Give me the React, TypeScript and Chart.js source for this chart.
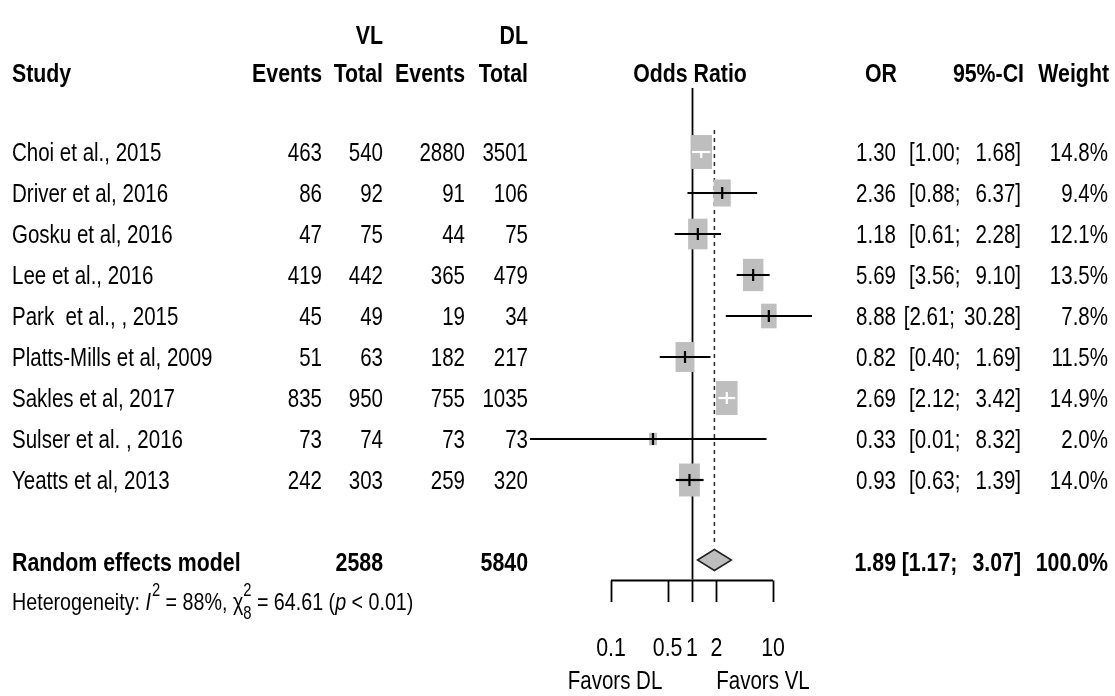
import React, { useEffect, useRef } from "react";
import { Chart, registerables } from "chart.js";

Chart.register(...registerables);

// ---------------- data ----------------
const studies = [
  "Choi et al., 2015",
  "Driver et al, 2016",
  "Gosku et al, 2016",
  "Lee et al., 2016",
  "Park  et al., , 2015",
  "Platts-Mills et al, 2009",
  "Sakles et al, 2017",
  "Sulser et al. , 2016",
  "Yeatts et al, 2013",
];
const vlEvents = [463, 86, 47, 419, 45, 51, 835, 73, 242];
const vlTotal = [540, 92, 75, 442, 49, 63, 950, 74, 303];
const dlEvents = [2880, 91, 44, 365, 19, 182, 755, 73, 259];
const dlTotal = [3501, 106, 75, 479, 34, 217, 1035, 73, 320];
const orValues = [1.3, 2.36, 1.18, 5.69, 8.88, 0.82, 2.69, 0.33, 0.93];
const ciLower = [1.0, 0.88, 0.61, 3.56, 2.61, 0.4, 2.12, 0.01, 0.63];
const ciUpper = [1.68, 6.37, 2.28, 9.1, 30.28, 1.69, 3.42, 8.32, 1.39];
const weights = [14.8, 9.4, 12.1, 13.5, 7.8, 11.5, 14.9, 2.0, 14.0];

const pooledLabel = "Random effects model";
const pooledVlTotal = 2588;
const pooledDlTotal = 5840;
const pooledOR = 1.89;
const pooledLower = 1.17;
const pooledUpper = 3.07;
const pooledWeight = "100.0%";

const xTicks = [0.1, 0.5, 1, 2, 10];
const xTickLabels = ["0.1", "0.5", "1", "2", "10"];
const favorsLeft = "Favors DL";
const favorsRight = "Favors VL";

const W = 1115;
const H = 696;
const POOLED_ROW = 10;
const NARROW = 0.82;
const BOLD = 26;
const REG = 25;

// column right edges (layout)
const C_VLE = 322;
const C_VLT = 383;
const C_DLE = 465;
const C_DLT = 528;
const C_OR = 896;
const C_CI = 1021;
const C_WT = 1108;

const FAM = '"Liberation Sans", Arial, sans-serif';
const font = (size: number, bold = false, italic = false) =>
  `${italic ? "italic " : ""}${bold ? "bold " : ""}${size}px ${FAM}`;

const maxW = Math.max(...weights);
function boxSize(i: number) {
  const s = Math.sqrt(weights[i] / maxW);
  return { bw: 21.5 * s, bh: 34 * s };
}
function ciInside(chart: any, i: number) {
  const xs = chart.scales.x;
  const cx = xs.getPixelForValue(orValues[i]);
  const { bw } = boxSize(i);
  const lo = xs.getPixelForValue(ciLower[i]);
  const hi = xs.getPixelForValue(ciUpper[i]);
  return lo >= cx - bw / 2 && hi <= cx + bw / 2;
}

export default function App() {
  const ref = useRef<HTMLCanvasElement>(null);

  useEffect(() => {
    const canvas = ref.current!;

    const forestPlugin = {
      id: "forest",
      beforeDatasetsDraw(chart: any) {
        const { ctx } = chart;
        const xs = chart.scales.x;
        const ys = chart.scales.y;
        const axisY = ys.getPixelForValue(POOLED_ROW) + 17.5;
        ctx.save();
        // reference line at 1
        const x1 = Math.round(xs.getPixelForValue(1)) + 0.5;
        ctx.strokeStyle = "#000";
        ctx.lineWidth = 1.8;
        ctx.beginPath();
        ctx.moveTo(x1, 88);
        ctx.lineTo(x1, axisY);
        ctx.stroke();
        // dashed pooled line
        const xp = xs.getPixelForValue(pooledOR);
        ctx.setLineDash([4, 4]);
        ctx.strokeStyle = "#333";
        ctx.lineWidth = 1.6;
        ctx.beginPath();
        ctx.moveTo(xp, ys.getPixelForValue(0) - 22);
        ctx.lineTo(xp, ys.getPixelForValue(POOLED_ROW) - 17);
        ctx.stroke();
        ctx.setLineDash([]);
        // boxes and CI lines
        for (let i = 0; i < studies.length; i++) {
          const y = ys.getPixelForValue(i);
          const cx = xs.getPixelForValue(orValues[i]);
          const { bw, bh } = boxSize(i);
          ctx.fillStyle = "#bebebe";
          ctx.fillRect(cx - bw / 2, y - bh / 2, bw, bh);
          const lo = Math.max(xs.getPixelForValue(ciLower[i]), chart.chartArea.left);
          const hi = Math.min(xs.getPixelForValue(ciUpper[i]), chart.chartArea.right);
          ctx.strokeStyle = ciInside(chart, i) ? "#fff" : "#000";
          ctx.lineWidth = 2.2;
          ctx.beginPath();
          ctx.moveTo(lo, y);
          ctx.lineTo(hi, y);
          ctx.stroke();
        }
        ctx.restore();
      },
      afterDraw(chart: any) {
        const { ctx } = chart;
        const xs = chart.scales.x;
        const ys = chart.scales.y;
        ctx.save();
        const measure = (s: string, size = REG, bold = false, italic = false) => {
          ctx.font = font(size, bold, italic);
          return ctx.measureText(s).width * NARROW;
        };
        const T = (
          s: string,
          x: number,
          y: number,
          align: CanvasTextAlign = "left",
          bold = false,
          size = REG,
          italic = false
        ) => {
          ctx.save();
          ctx.font = font(size, bold, italic);
          ctx.textAlign = align;
          ctx.textBaseline = "alphabetic";
          ctx.fillStyle = "#000";
          ctx.translate(x, y);
          ctx.scale(NARROW, 1);
          ctx.fillText(s, 0, 0);
          const w = ctx.measureText(s).width * NARROW;
          ctx.restore();
          return w;
        };

        // header
        T("VL", C_VLT, 44, "right", true, BOLD);
        T("DL", C_DLT, 44, "right", true, BOLD);
        const hb = 82;
        T("Study", 12, hb, "left", true, BOLD);
        T("Events", C_VLE, hb, "right", true, BOLD);
        T("Total", C_VLT, hb, "right", true, BOLD);
        T("Events", C_DLE, hb, "right", true, BOLD);
        T("Total", C_DLT, hb, "right", true, BOLD);
        T("Odds Ratio", 690, hb, "center", true, BOLD);
        T("OR", C_OR + 1, hb, "right", true, BOLD);
        T("95%-CI", C_CI + 3, hb, "right", true, BOLD);
        T("Weight", C_WT + 1, hb, "right", true, BOLD);

        const drawCI = (lo: number, hi: number, y: number, bold: boolean, size: number) => {
          const hiStr = hi.toFixed(2) + "]";
          const loStr = "[" + lo.toFixed(2) + ";";
          const hiW = measure(hiStr, size, bold);
          const gap = hi >= 10 ? 9 : 15;
          T(hiStr, C_CI, y, "right", bold, size);
          T(loStr, C_CI - hiW - gap, y, "right", bold, size);
        };

        // study rows
        for (let i = 0; i < studies.length; i++) {
          const b = ys.getPixelForValue(i) + 8.9;
          T(studies[i], 12, b);
          T(String(vlEvents[i]), C_VLE, b, "right");
          T(String(vlTotal[i]), C_VLT, b, "right");
          T(String(dlEvents[i]), C_DLE, b, "right");
          T(String(dlTotal[i]), C_DLT, b, "right");
          T(orValues[i].toFixed(2), C_OR, b, "right");
          drawCI(ciLower[i], ciUpper[i], b, false, REG);
          T(weights[i].toFixed(1) + "%", C_WT, b, "right");
        }

        // pooled row
        const py = ys.getPixelForValue(POOLED_ROW);
        const pb = py + 9.2;
        T(pooledLabel, 12, pb, "left", true, BOLD);
        T(String(pooledVlTotal), C_VLT, pb, "right", true, BOLD);
        T(String(pooledDlTotal), C_DLT, pb, "right", true, BOLD);
        T(pooledOR.toFixed(2), C_OR, pb, "right", true, BOLD);
        drawCI(pooledLower, pooledUpper, pb, true, BOLD);
        T(pooledWeight, C_WT, pb, "right", true, BOLD);

        // diamond
        const dl = xs.getPixelForValue(pooledLower);
        const dc = xs.getPixelForValue(pooledOR);
        const dr = xs.getPixelForValue(pooledUpper);
        const dy = py - 2;
        ctx.beginPath();
        ctx.moveTo(dl, dy);
        ctx.lineTo(dc, dy - 10.5);
        ctx.lineTo(dr, dy);
        ctx.lineTo(dc, dy + 10.5);
        ctx.closePath();
        ctx.fillStyle = "#bebebe";
        ctx.fill();
        ctx.strokeStyle = "#222";
        ctx.lineWidth = 1.5;
        ctx.stroke();

        // heterogeneity line
        let hx = 12;
        const hy = 609.5;
        hx += T("Heterogeneity: ", hx, hy, "left", false, 24);
        hx += T("I", hx, hy, "left", false, 24, true);
        hx += 1;
        hx += T("2", hx, hy - 14, "left", false, 18);
        hx += T(" = 88%, ", hx, hy, "left", false, 24);
        hx += T("\u03C7", hx, hy, "left", false, 24);
        const w1 = T("2", hx, hy - 14, "left", false, 18);
        const w2 = T("8", hx, hy + 9, "left", false, 18);
        hx += Math.max(w1, w2);
        hx += T(" = 64.61 (", hx, hy, "left", false, 24);
        hx += T("p", hx, hy, "left", false, 24, true);
        T(" < 0.01)", hx, hy, "left", false, 24);

        // x axis
        const axisY = Math.round(py + 17.5) + 0.5;
        const ax0 = xs.getPixelForValue(xTicks[0]);
        const ax1 = xs.getPixelForValue(xTicks[xTicks.length - 1]);
        ctx.strokeStyle = "#000";
        ctx.lineWidth = 1.8;
        ctx.beginPath();
        ctx.moveTo(ax0, axisY);
        ctx.lineTo(ax1, axisY);
        for (const t of xTicks) {
          const tx = Math.round(xs.getPixelForValue(t)) + 0.5;
          ctx.moveTo(tx, axisY);
          ctx.lineTo(tx, axisY + 21.5);
        }
        ctx.stroke();
        xTicks.forEach((t, k) => {
          T(xTickLabels[k], xs.getPixelForValue(t), 656, "center", false, 26);
        });
        T(favorsLeft, ax0 + 4, 689, "center");
        T(favorsRight, ax1 - 10, 689, "center");

        ctx.restore();
      },
    };

    const chart = new Chart(canvas, {
      type: "scatter",
      data: {
        datasets: [
          {
            data: orValues.map((v, i) => ({ x: v, y: i })),
            pointStyle: "line",
            rotation: 90,
            pointRadius: 6,
            pointHoverRadius: 6,
            pointBorderWidth: 2.2,
            pointBorderColor: (c: any) =>
              c.dataIndex !== undefined && ciInside(c.chart, c.dataIndex) ? "#fff" : "#000",
            showLine: false,
          } as any,
        ],
      },
      options: {
        responsive: false,
        animation: false,
        devicePixelRatio: 1,
        events: [],
        layout: { padding: { left: 530, right: W - 854, top: 152, bottom: H - 562 } },
        plugins: { legend: { display: false }, tooltip: { enabled: false } },
        scales: {
          x: { type: "logarithmic", min: 0.01, max: 100, display: false },
          y: { type: "linear", min: 0, max: POOLED_ROW, reverse: true, display: false },
        },
      },
      plugins: [forestPlugin],
    });
    return () => chart.destroy();
  }, []);

  return (
    <div style={{ position: "absolute", left: 0, top: 0, width: W, height: H, background: "#fff" }}>
      <canvas ref={ref} width={W} height={H} style={{ display: "block", width: W, height: H }} />
    </div>
  );
}
